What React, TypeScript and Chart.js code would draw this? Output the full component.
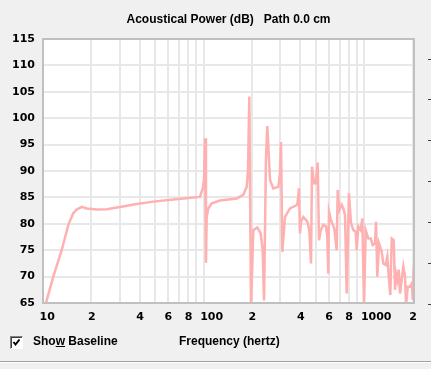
import React, { useEffect, useRef } from "react";
import { Chart, registerables } from "chart.js";

Chart.register(...registerables);

const freqHz = [10, 11.59, 13.07, 14.37, 15.43, 16.2, 17.41, 18.7, 21.59, 24.91,
  30.15, 38.3, 48.57, 64.69, 86.16, 94.8, 98.6, 100.4, 101.9, 103.3,
  104.4, 106.8, 112.1, 126.3, 160.5, 176.4, 185.2, 188.7, 192.2, 197.0,
  203.4, 215.5, 226.2, 232.8, 237.3, 244.2, 248.8, 258.6, 271.1, 291.2,
  298.4, 302.7, 308.4, 320.6, 344.4, 382.3, 391.7, 397.4, 403.2, 416.6,
  441.2, 454.0, 465.2, 471.9, 485.6, 497.6, 512.1, 521.7, 534.6, 554.8,
  576.8, 587.6, 596.1, 602.1, 619.5, 649.6, 672.3, 682.0, 697.9, 722.3,
  739.1, 757.3, 776.1, 801, 825.2, 852.9, 882.6, 895.5, 916.2, 948.4,
  970.3, 994.3, 1018.8, 1057.5, 1094.5, 1126.1, 1164.1, 1180.9, 1203.1, 1232.6,
  1281.0, 1311.1, 1357.0, 1388.5, 1422.7, 1449.6, 1479.0, 1521.9, 1550.5, 1572.9,
  1602.5, 1634.9, 1665.6, 1706.7, 1746.5, 1789.6, 1815.4, 1860.3, 1922.5, 1970.0,
  1998.6, 2027.4];

const powerDb = [63.0, 70.0, 75.0, 79.8, 82.0, 82.7, 83.2, 82.9, 82.7, 82.75,
  83.2, 83.75, 84.2, 84.6, 85.0, 85.1, 86.7, 88.3, 96.2, 72.6,
  81.3, 82.9, 83.9, 84.4, 84.8, 85.5, 87.0, 90.2, 104.1, 64.0,
  78.8, 79.3, 78.2, 75.0, 65.5, 92.7, 98.5, 88.3, 86.7, 87.0,
  89.6, 95.5, 74.7, 81.3, 82.9, 83.6, 86.7, 78.2, 80.4, 81.3,
  80.4, 78.8, 72.5, 90.8, 87.7, 87.7, 91.6, 76.9, 78.8, 79.8,
  79.5, 77.6, 70.6, 82.3, 80.7, 79.1, 75.0, 86.4, 82.6, 83.6,
  82.9, 81.7, 66.8, 85.8, 80.1, 78.8, 78.5, 75.0, 79.5, 78.8,
  81.0, 64.5, 78.8, 77.2, 77.2, 76.0, 76.3, 80.4, 70.0, 76.3,
  74.7, 72.5, 72.2, 73.8, 69.4, 66.5, 77.2, 76.9, 67.5, 70.6,
  69.4, 71.3, 66.8, 69.4, 71.9, 70.0, 64.5, 68.1, 68.1, 68.7,
  65.6, 71.9];

const xTickValues = [10, 20, 30, 40, 50, 60, 70, 80, 90, 100, 200, 300, 400, 500, 600, 700, 800, 900, 1000, 2000];
const xTickLabels = ["10", "2", "", "4", "", "6", "", "8", "", "100", "2", "", "4", "", "6", "", "8", "", "1000", "2"];

const X_MIN = 10;
const X_MAX = 2035;
const Y_MIN = 65;
const Y_MAX = 115;
const Y_STEP = 5;

const titleText = "Acoustical Power (dB)   Path 0.0 cm";
const xAxisTitle = "Frequency (hertz)";

const plotFrame = {
  id: "plotFrame",
  beforeDraw(chart: any) {
    const { ctx, chartArea: a } = chart;
    ctx.save();
    ctx.fillStyle = "#ffffff";
    ctx.fillRect(a.left, a.top, a.right - a.left, a.bottom - a.top);
    ctx.restore();
  },
  afterDatasetsDraw(chart: any) {
    const { ctx, chartArea: a } = chart;
    ctx.save();
    ctx.strokeStyle = "#c0c0c0";
    ctx.lineWidth = 2;
    ctx.strokeRect(a.left, a.top, a.right - a.left, a.bottom - a.top);
    ctx.restore();
  },
};

export default function App() {
  const ref = useRef<HTMLCanvasElement | null>(null);

  useEffect(() => {
    if (!ref.current) return;
    const points = freqHz.map((f, i) => ({ x: f, y: powerDb[i] }));
    const chart = new Chart(ref.current, {
      type: "line",
      data: {
        datasets: [
          {
            data: points,
            borderColor: "#ffb0b0",
            borderWidth: 2.5,
            pointRadius: 0,
            tension: 0,
            fill: false,
          },
        ],
      },
      options: {
        animation: false,
        responsive: false,
        events: [],
        layout: { padding: { top: 39, right: 17, left: 0, bottom: 0 } },
        plugins: { legend: { display: false }, tooltip: { enabled: false }, title: { display: false } },
        scales: {
          x: {
            type: "logarithmic",
            min: X_MIN,
            max: X_MAX,
            afterBuildTicks: (s: any) => {
              s.ticks = xTickValues.map((v) => ({ value: v }));
            },
            afterFit: (s: any) => {
              s.height = 66;
            },
            grid: { color: "#e8e8e8", lineWidth: 2, drawTicks: false },
            border: { display: false },
            ticks: {
              autoSkip: false,
              maxRotation: 0,
              minRotation: 0,
              align: "start",
              labelOffset: -3.5,
              padding: 8,
              color: "#000000",
              font: { family: "'DejaVu Sans'", size: 11, weight: "bold" },
              callback: (_v: any, i: number) => xTickLabels[i],
            },
          },
          y: {
            type: "linear",
            min: Y_MIN,
            max: Y_MAX,
            afterFit: (s: any) => {
              s.width = 43;
            },
            grid: { color: "#e8e8e8", lineWidth: 2, drawTicks: false },
            border: { display: false },
            ticks: {
              stepSize: Y_STEP,
              padding: 8,
              color: "#000000",
              font: { family: "'DejaVu Sans'", size: 11, weight: "bold" },
            },
          },
        },
      },
      plugins: [plotFrame],
    } as any);
    return () => chart.destroy();
  }, []);

  const textFont: React.CSSProperties = {
    fontFamily: "'Liberation Sans', Arial, sans-serif",
    fontWeight: "bold",
    fontSize: 12,
    lineHeight: "12px",
    color: "#000",
    position: "absolute",
    whiteSpace: "pre",
  };

  const dashYs = [59, 99, 140, 181, 222, 263, 304];

  return (
    <div style={{ position: "fixed", left: 0, top: 0, width: 431, height: 369, background: "#f0f0f0", overflow: "hidden" }}>
      <canvas ref={ref} width={431} height={369} style={{ position: "absolute", left: 0, top: 0, width: 431, height: 369 }} />
      <div style={{ ...textFont, left: 0, width: 457, top: 13, textAlign: "center" }}>{titleText}</div>
      <div style={{ position: "absolute", left: 10, top: 336, width: 13, height: 13, boxSizing: "border-box", background: "#fff", borderTop: "1px solid #808080", borderLeft: "1px solid #808080", borderRight: "1px solid #ffffff", borderBottom: "1px solid #ffffff", boxShadow: "inset 1px 1px 0 #404040" }}>
        <svg width="11" height="11" style={{ position: "absolute", left: 0, top: 0 }}>
          <polyline points="2.5,5 4.5,7.5 8.5,2.5" fill="none" stroke="#000" strokeWidth="2" />
        </svg>
      </div>
      <div style={{ ...textFont, left: 33, top: 335 }}>
        Sho<u>w</u> Baseline
      </div>
      <div style={{ ...textFont, left: 179, top: 335 }}>{xAxisTitle}</div>
      <div style={{ position: "absolute", left: 0, top: 361, width: 431, height: 1, background: "#a0a0a0" }} />
      <div style={{ position: "absolute", left: 0, top: 362, width: 431, height: 1, background: "#ffffff" }} />
      {dashYs.map((y) => (
        <div key={y} style={{ position: "absolute", left: 428, top: y, width: 3, height: 1, background: "#404040" }} />
      ))}
    </div>
  );
}
